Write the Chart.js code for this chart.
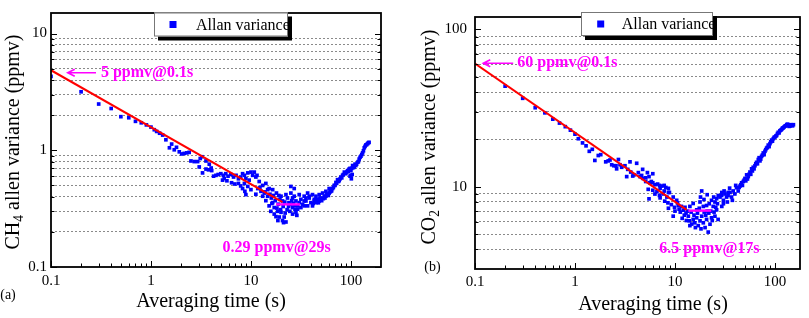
<!DOCTYPE html>
<html><head><meta charset="utf-8">
<script src="https://cdn.jsdelivr.net/npm/chart.js@4.4.1/dist/chart.umd.min.js"></script>
<style>
html,body{margin:0;padding:0;background:#fff;}
#wrap{position:relative;width:809px;height:318px;overflow:hidden;background:#fff;}
canvas{position:absolute;top:0;}
</style></head><body>
<div id="wrap">
<canvas id="ca" width="405" height="318" style="left:0px"></canvas>
<canvas id="cb" width="404" height="318" style="left:405px"></canvas>
</div>
<script>
// ---------------- DATA ----------------
// CH4 Allan variance points [tau (s), value (ppmv)]
const ch4Points = [
[0.1,4.3],[0.2,3.17],[0.3,2.49],[0.4,2.28],[0.5,1.94],[0.6,1.90],[0.7,1.77],[0.8,1.72],[0.9,1.65],[1.0,1.58],
[1.08,1.50],[1.14,1.45],[1.22,1.40],[1.31,1.35],[1.41,1.23],[1.53,1.05],[1.61,1.13],[1.71,1.01],[1.8,1.06],[1.92,0.97],
[2.03,0.93],[2.15,0.94],[2.28,0.95],[2.41,0.96],[2.51,0.81],[2.71,0.80],[2.93,0.80],[3.04,0.72],[3.11,0.85],[3.24,0.88],
[3.28,0.64],[3.55,0.69],[3.76,0.68],[4.05,0.67],[3.55,0.81],[3.83,0.76],[4.0,0.705],[4.23,0.60],[4.47,0.61],[4.7,0.62],
[5.0,0.63],[5.3,0.61],[5.6,0.63],[5.9,0.60],[6.3,0.62],[6.7,0.59],[7.1,0.61],[7.5,0.57],[7.9,0.59],[8.6,0.61],
[5.2,0.555],[5.75,0.548],[6.4,0.527],[6.9,0.514],[7.5,0.52],[7.9,0.495],[8.25,0.47],[8.7,0.445],[8.9,0.417],[5.4,0.573],
[8.25,0.63],[8.9,0.573],[9.6,0.555],[10.4,0.61],[11.2,0.59],[12.1,0.54],[13.1,0.50],[14.1,0.52],[15.2,0.47],[16.5,0.46],
[10,0.65],[10.8,0.65],[9.3,0.64],[11.5,0.61],
[8.6,0.52],[9.3,0.49],[10,0.46],[11.2,0.42],[11.7,0.47],[12.6,0.445],[13.1,0.404],[14.7,0.404],[15.2,0.334],[16.5,0.356],
[15.8,0.30],[17.1,0.323],[17.1,0.284],[18.5,0.30],[19.2,0.268],[20,0.294],[20.7,0.25],[21.5,0.268],[22.4,0.243],[20,0.404],
[20.7,0.368],[22.4,0.417],[23.2,0.39],[24,0.356],[25.1,0.43],[26.1,0.323],[27.1,0.404],[28.2,0.368],[29.3,0.334],[30.4,0.417],
[31.6,0.38],[32.9,0.344],[34.1,0.404],[35.5,0.368],[36.9,0.334],[38.3,0.39],[39.8,0.356],[41.3,0.417],[43,0.38],[44.7,0.404],
[48.2,0.417],[52.1,0.43],[56.2,0.445],[60.6,0.47],[25.1,0.49],[27.1,0.47],
[13.6,0.43],[14.1,0.37],[14.7,0.46],[15.5,0.42],[16,0.39],[16.8,0.41],[17.5,0.37],[18,0.43],[18.8,0.345],[19.5,0.38],
[12.3,0.48],[13.8,0.44],[16.2,0.35],[18.2,0.32],[19,0.41],[21,0.33],[21.8,0.36],[23,0.31],[23.8,0.33],[24.5,0.30],
[25.6,0.37],[26.6,0.35],[27.6,0.31],[22,0.29],[19.8,0.31],[17.8,0.27],[18.6,0.25],[21.2,0.24],
[25.1,0.344],[26.1,0.39],[26.1,0.284],[27.1,0.334],[28.2,0.294],[28.8,0.277],[29.3,0.313],[30.4,0.356],[31.6,0.323],
[34.1,0.368],[34.1,0.334],[35.5,0.39],[36.9,0.43],[38.3,0.404],[41.3,0.334],[43,0.368],[44.7,0.356],[46.4,0.38],[48.2,0.368],
[50.1,0.38],[52.1,0.39],[54.1,0.404],[56.2,0.404],[58.4,0.417],[60.6,0.43],[63,0.445],[65.5,0.47],[68,0.50],[70.8,0.53],
[73.5,0.56],[76.4,0.55],[79.4,0.59],[82.5,0.61],[86,0.65],[89,0.63],[92.6,0.67],[96,0.69],[100,0.67],[100,0.61],
[104,0.74],[108,0.72],[112,0.74],[117,0.79],[121,0.84],[126,0.89],[131,0.95],[136,1.05],[141,1.11],[147,1.14],[152,1.17],
[42,0.35],[45.5,0.37],[47.3,0.355],[49,0.39],[51,0.37],[53,0.385],[55,0.39],[57.3,0.42],[59.5,0.41],[61.8,0.44],
[64.2,0.45],[66.8,0.48],[69.4,0.50],[72,0.52],[75,0.54],[78,0.57],[81,0.58],[84,0.62],[87.5,0.64],[91,0.65],
[94,0.66],[98,0.70],[102,0.70],[106,0.71],[110,0.76],[114,0.76],[119,0.80],[123.5,0.87],[128.5,0.92],[133.5,0.99],
[138.5,1.08],[144,1.12],[149.5,1.16],[98,0.60],[101,0.57],[103,0.62]
];
const ch4Fit = [[0.1,4.85],[20.7,0.36]];
const ch4Min = [[17.9,0.344],[30.9,0.344]];

// CO2 Allan variance points [tau (s), value (ppmv)]
const co2Points = [
[0.2,43.6],[0.3,36.5],[0.4,31.8],[0.5,29.5],[0.6,26.9],[0.7,25.4],[0.8,24.1],[0.9,22.9],[1.0,21.6],[1.08,20.2],
[1.19,19.0],[1.29,18.2],[1.39,16.8],[1.49,17.3],[1.58,14.7],[1.71,15.8],[1.81,16.0],[2.03,14.4],[2.15,14.6],[2.24,14.8],
[2.33,13.8],[2.45,13.6],[2.57,13.6],[2.72,14.9],[2.82,13.8],[2.61,13.0],[2.93,13.3],[3.16,13.6],[3.37,12.9],[3.55,14.4],
[3.29,11.6],[3.61,12.4],[3.78,11.7],[3.89,11.9],[4.14,14.1],[4.3,12.3],[4.47,11.6],[4.64,11.8],[4.75,12.9],[4.8,11.3],
[5.1,11.4],[5.3,12.3],[5.5,11.6],[5.1,10.8],[5.6,10.6],[6.0,10.6],[6.3,10.3],[6.7,10.4],[7.0,10.2],[5.4,9.63],
[6.0,9.5],[6.6,9.3],[7.4,10.1],[7.8,10.2],[8.1,9.9],[5.5,8.38],[6.3,8.99],[7.1,8.5],[7.6,9.0],[8.3,8.6],
[8.6,9.2],[8.5,7.9],[8.6,7.3],[5.8,10.8],[6.0,12.1],[7.1,9.77],[7.8,9.4],[7.0,8.8],[8.8,9.2],[8.6,9.77],
[7.9,8.1],[9.6,8.6],[10.4,8.2],[10.0,7.0],[9.6,6.5],[10.8,7.6],[11.6,7.5],[12.1,7.1],[12.9,6.8],[13.6,6.5],
[13.9,6.07],[14.7,5.79],[15.2,6.2],[14.1,5.66],[15.8,5.9],[16.5,6.35],[17.1,5.66],[17.8,6.07],[18.5,6.5],[19.2,5.9],
[20,5.5],[20.7,6.2],[21.5,5.15],[22.4,5.78],[23.2,6.35],[14.1,7.5],[15.2,7.83],[16.5,7.13],[17.8,8.0],[18.5,9.4],
[19.2,7.5],[20.7,7.6],[22.0,7.8],[23.2,8.2],[24.1,7.5],[25.1,8.0],[26.1,8.4],[27.1,8.8],[26.1,7.13],[25.1,6.5],
[27,6.2],[28.2,8.6],[29.4,9.2],[29.4,7.5],[30.5,8.2],[31.6,9.0],[32.8,8.6],[34,8.8],[35.5,9.2],
[11,7.2],[11.3,6.9],[12.4,6.6],[11.8,6.3],[12.6,7.4],[13.3,7.0],[10.6,7.9],[9.2,7.7],[9.9,7.4],[13,6.1],
[14.5,6.9],[15.5,6.6],[16,5.5],[16.8,6.8],[17.5,7.3],[18.2,5.4],[19.6,6.9],[20.3,6.6],[21,7.0],[21.8,6.8],
[22.8,7.0],[23.6,6.1],[24.6,6.9],[25.6,7.4],[26.6,7.8],[24.4,8.6],[18,8.6],[19.5,8.3],[21,8.9],
[29.3,8.8],[30.5,7.8],[34,9.2],[36.8,8.6],[38.2,9.4],[41.3,9.86],[42.9,9.4],[44.7,10.1],[46.4,10.6],[48.2,10.8],
[50.1,11.3],[52.1,11.9],[54.1,11.6],[56.2,12.4],[58.4,13.0],[60.6,13.3],[63.1,13.6],[65.5,14.3],[68.1,14.9],[70.8,14.6],
[73.5,15.6],[76.4,16.4],[79.4,16.8],[82.5,17.6],[85.7,18.4],[89.1,18.8],[92.6,19.8],[96.2,20.2],[100,20.7],[104,21.2],
[108,22.2],[112,22.7],[117,23.2],[121,23.7],[126,24.3],[131,24.8],[136,24.6],[141,24.3],[147,24.6],[153,24.8],
[31,9.4],[33.4,8.0],[35.2,9.8],[37.5,8.2],[39.7,9.0],[40.5,10.2],[43.8,9.9],[45.5,10.3],[47.3,10.2],[49.1,11.0],
[51.1,10.9],[53.1,11.2],[55.1,12.0],[57.3,12.0],[59.5,12.6],[61.8,13.0],[64.3,14.0],[66.8,14.0],[69.4,15.3],[72.1,15.0],
[74.9,15.9],[77.9,16.0],[80.9,17.2],[84,17.8],[87.4,18.0],[90.8,19.3],[94.4,19.5],[98,20.6],[102,21.0],[106,21.8],
[110,22.0],[114.5,22.9],[119,23.6],[123.5,24.0],[128.5,24.4],[133.5,25.0],[138.5,24.2],[144,24.8],[150,24.4]
];
const co2Fit = [[0.1,60.7],[13.1,7.13]];
const co2Min = [[13.6,7.05],[23.1,7.05]];

// Tick values and labels
const xTickValues = [0.1,0.2,0.3,0.4,0.5,0.6,0.7,0.8,0.9,1,2,3,4,5,6,7,8,9,10,20,30,40,50,60,70,80,90,100];
const xLabelValues = [0.1,1,10,100];
const xLabels = ['0.1','1','10','100'];
const ch4YTickValues = [0.1,0.2,0.3,0.4,0.5,0.6,0.7,0.8,0.9,1,2,3,4,5,6,7,8,9,10];
const ch4YLabelValues = [0.1,1,10];
const ch4YLabels = ['0.1','1','10'];
const co2YTickValues = [4,5,6,7,8,9,10,20,30,40,50,60,70,80,90,100];
const co2YLabelValues = [10,100];
const co2YLabels = ['10','100'];

const legendText = 'Allan variance';
const xTitle = 'Averaging time (s)';

// ---------------- DRAWING ----------------
const SERIF = "'Liberation Serif', 'Times New Roman', serif";
const BLUE = '#0000ff', RED = '#ff0000', MAG = '#ff00ff';
const isMajor = v => Math.abs(Math.log10(v) - Math.round(Math.log10(v))) < 1e-9;

function drawRichText(ctx, parts, size, align) {
  let total = 0;
  const widths = parts.map(([t, sub]) => {
    ctx.font = (sub ? size * 0.68 : size) + 'px ' + SERIF;
    const w = ctx.measureText(t).width; total += w; return w;
  });
  let x = align === 'center' ? -total / 2 : 0;
  parts.forEach(([t, sub], i) => {
    ctx.font = (sub ? size * 0.68 : size) + 'px ' + SERIF;
    ctx.fillText(t, x, sub ? size * 0.28 : 0);
    x += widths[i];
  });
}

const decor = {
  id: 'decor',
  afterDraw(chart) {
    const o = chart.options.plugins.decor;
    const {ctx, chartArea: a, scales: {x, y}} = chart;
    ctx.save();
    ctx.strokeStyle = '#000'; ctx.lineWidth = 1;
    ctx.beginPath();
    x.ticks.forEach(t => {
      const px = Math.round(x.getPixelForValue(t.value)) + 0.5;
      const len = isMajor(t.value) ? 6 : 3.5;
      ctx.moveTo(px, a.bottom); ctx.lineTo(px, a.bottom - len);
    });
    y.ticks.forEach(t => {
      const py = Math.round(y.getPixelForValue(t.value)) + 0.5;
      const len = isMajor(t.value) ? 6 : 3.5;
      ctx.moveTo(a.left, py); ctx.lineTo(a.left + len, py);
      ctx.moveTo(a.right, py); ctx.lineTo(a.right - len, py);
    });
    ctx.stroke();
    ctx.lineWidth = 1.8;
    ctx.strokeRect(a.left, a.top, a.right - a.left, a.bottom - a.top);

    const L = o.legend;
    ctx.fillStyle = '#000';
    ctx.fillRect(L.x + 4, L.y + 4, L.w, L.h);
    ctx.fillStyle = '#fff';
    ctx.fillRect(L.x, L.y, L.w, L.h);
    ctx.strokeStyle = '#777'; ctx.lineWidth = 1;
    ctx.strokeRect(L.x + 0.5, L.y + 0.5, L.w - 1, L.h - 1);
    ctx.fillStyle = BLUE;
    ctx.fillRect(L.mx - 3.5, L.y + L.h / 2 - 3.5, 7, 7);
    ctx.fillStyle = '#000';
    ctx.font = '16px ' + SERIF;
    ctx.textAlign = 'left'; ctx.textBaseline = 'middle';
    ctx.fillText(legendText, L.tx, L.y + L.h / 2 + 1);

    ctx.strokeStyle = MAG; ctx.fillStyle = MAG; ctx.lineWidth = 1.6;
    const ar = o.arrow;
    const ay = y.getPixelForValue(ar.y);
    const x1 = x.getPixelForValue(ar.from), x0 = x.getPixelForValue(ar.to);
    ctx.beginPath();
    ctx.moveTo(x1, ay); ctx.lineTo(x0, ay);
    ctx.moveTo(x0 + 7, ay - 3.5); ctx.lineTo(x0, ay); ctx.lineTo(x0 + 7, ay + 3.5);
    ctx.stroke();
    ctx.font = 'bold 16px ' + SERIF;
    ctx.textAlign = 'left'; ctx.textBaseline = 'middle';
    o.notes.forEach(n => ctx.fillText(n.text, x.getPixelForValue(n.x), y.getPixelForValue(n.y)));

    ctx.fillStyle = '#000';
    ctx.textAlign = 'left'; ctx.textBaseline = 'middle';
    ctx.save();
    ctx.translate(o.yTitle.x, o.yTitle.y);
    ctx.rotate(-Math.PI / 2);
    drawRichText(ctx, o.yTitle.parts, 20, 'center');
    ctx.restore();
    ctx.font = '20px ' + SERIF;
    ctx.textAlign = 'center';
    ctx.fillText(xTitle, o.xTitle.x, o.xTitle.y);
    ctx.font = '14px ' + SERIF;
    ctx.textAlign = 'center';
    ctx.fillText(o.panel.text, o.panel.x, o.panel.y);
    ctx.restore();
  }
};

function makeChart(id, c) {
  const toXY = arr => arr.map(p => ({x: p[0], y: p[1]}));
  return new Chart(document.getElementById(id), {
    type: 'scatter',
    data: {datasets: [
      {data: toXY(c.points), pointStyle: 'rect', pointRadius: 2.6, pointHoverRadius: 2.6,
       backgroundColor: BLUE, borderWidth: 0, order: 3},
      {data: toXY(c.fit), showLine: true, borderColor: RED, borderWidth: 2, pointRadius: 0, order: 2},
      {data: toXY(c.min), showLine: true, borderColor: MAG, borderWidth: 2.4, pointRadius: 0, order: 1}
    ]},
    options: {
      responsive: false, animation: false, devicePixelRatio: 1,
      events: [],
      layout: {padding: {top: 3, right: c.padRight, left: 0, bottom: 0}},
      plugins: {legend: {display: false}, tooltip: {enabled: false}, decor: c.decor},
      scales: {
        x: {
          type: 'logarithmic', min: c.xMin, max: c.xMax,
          afterBuildTicks: s => { s.ticks = xTickValues.map(v => ({value: v})); },
          afterFit: s => { s.height = c.xAxisH; },
          grid: {display: false, drawTicks: false},
          border: {display: false},
          ticks: {autoSkip: false, maxRotation: 0, minRotation: 0, padding: c.xPad, color: '#000',
            font: {family: SERIF, size: 15},
            callback: v => { const i = xLabelValues.indexOf(v); return i >= 0 ? xLabels[i] : ''; }}
        },
        y: {
          type: 'logarithmic', min: c.yMin, max: c.yMax,
          afterBuildTicks: s => { s.ticks = c.yTicks.map(v => ({value: v})); },
          afterFit: s => { s.width = c.yAxisW; },
          grid: {drawTicks: false, lineWidth: 1,
            color: ctx => (ctx.tick && isMajor(ctx.tick.value)) ? 'rgba(0,0,0,0)' : '#8a8a8a'},
          border: {display: false, dash: [2, 2]},
          ticks: {autoSkip: false, padding: c.yPad, color: '#000', font: {family: SERIF, size: 15},
            callback: v => { const i = c.yLabelValues.indexOf(v); return i >= 0 ? c.yLabels[i] : ''; }}
        }
      }
    },
    plugins: [decor]
  });
}

makeChart('ca', {
  points: ch4Points, fit: ch4Fit, min: ch4Min,
  xMin: 0.1, xMax: 200, yMin: 0.1, yMax: 15,
  yTicks: ch4YTickValues, yLabelValues: ch4YLabelValues, yLabels: ch4YLabels,
  padRight: 24, xAxisH: 51, yAxisW: 51, xPad: 5, yPad: 4,
  decor: {
    legend: {x: 154, y: 12.5, w: 134, h: 24, mx: 173, tx: 196},
    arrow: {from: 0.282, to: 0.147, y: 4.62},
    notes: [{text: '5 ppmv@0.1s', x: 0.316, y: 4.62}, {text: '0.29 ppmv@29s', x: 5.2, y: 0.146}],
    yTitle: {x: 14, y: 142, parts: [['CH', false], ['4', true], [' allen variance (ppmv)', false]]},
    xTitle: {x: 211, y: 302},
    panel: {text: '(a)', x: 8, y: 295}
  }
});

makeChart('cb', {
  points: co2Points, fit: co2Fit, min: co2Min,
  xMin: 0.1, xMax: 178, yMin: 3, yMax: 120,
  yTicks: co2YTickValues, yLabelValues: co2YLabelValues, yLabels: co2YLabels,
  padRight: 9, xAxisH: 49, yAxisW: 70, xPad: 4, yPad: 8,
  decor: {
    legend: {x: 176, y: 12, w: 132, h: 24, mx: 195.7, tx: 216.7},
    arrow: {from: 0.241, to: 0.121, y: 61},
    notes: [{text: '60 ppmv@0.1s', x: 0.265, y: 61}, {text: '6.5 ppmv@17s', x: 6.97, y: 4.0}],
    yTitle: {x: 25, y: 137, parts: [['CO', false], ['2', true], [' allen variance (ppmv)', false]]},
    xTitle: {x: 248, y: 305},
    panel: {text: '(b)', x: 27.5, y: 267}
  }
});
</script>
</body></html>
